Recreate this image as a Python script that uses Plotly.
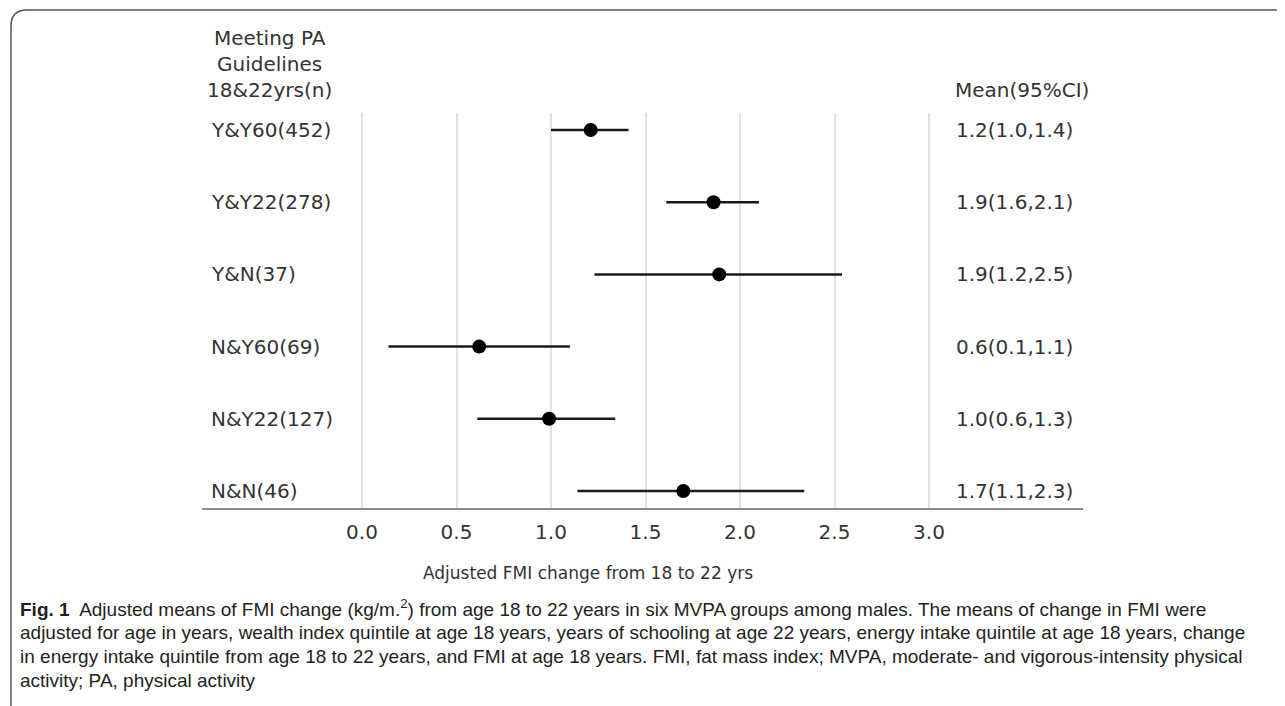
import plotly.graph_objects as go

# ---- data ----
groups = ["Y&Y60(452)", "Y&Y22(278)", "Y&N(37)", "N&Y60(69)", "N&Y22(127)", "N&N(46)"]
means = [1.21, 1.86, 1.89, 0.62, 0.99, 1.70]
ci_low = [1.00, 1.61, 1.23, 0.14, 0.61, 1.14]
ci_high = [1.41, 2.10, 2.54, 1.10, 1.34, 2.34]
ci_text = ["1.2(1.0,1.4)", "1.9(1.6,2.1)", "1.9(1.2,2.5)", "0.6(0.1,1.1)", "1.0(0.6,1.3)", "1.7(1.1,2.3)"]
tick_vals = [0.0, 0.5, 1.0, 1.5, 2.0, 2.5, 3.0]
tick_text = ["0.0", "0.5", "1.0", "1.5", "2.0", "2.5", "3.0"]
caption_lines = [
    "<b>Fig. 1</b>  Adjusted means of FMI change (kg/m.<sup>2</sup>) from age 18 to 22 years in six MVPA groups among males. The means of change in FMI were",
    "adjusted for age in years, wealth index quintile at age 18 years, years of schooling at age 22 years, energy intake quintile at age 18 years, change",
    "in energy intake quintile from age 18 to 22 years, and FMI at age 18 years. FMI, fat mass index; MVPA, moderate- and vigorous-intensity physical",
    "activity; PA, physical activity",
]

# ---- layout geometry (pixels of the 1285x706 window) ----
OFF = 8                      # default body margin of the page
W, H = 1285, 706
FW, FH = W - OFF, H - OFF    # figure size so the page does not overflow
L, T = 202 - OFF, 113 - OFF
PLOT_R, PLOT_B = 1083, 508
R = FW - (PLOT_R - OFF)
B = FH - (PLOT_B - OFF)
PW, PH = FW - L - R, FH - T - B


def px(x):
    return (x - OFF - L) / PW


def py(y):
    return (FH - B - (y - OFF)) / PH


rows = list(range(len(groups)))
err_plus = [h - m for h, m in zip(ci_high, means)]
err_minus = [m - l for m, l in zip(means, ci_low)]

CHART_FONT = "DejaVu Sans"
TXT = "#333333"
FS = 20

fig = go.Figure()
fig.add_trace(go.Scatter(
    x=means, y=rows, mode="markers",
    marker=dict(color="black", size=14),
    error_x=dict(type="data", symmetric=False, array=err_plus, arrayminus=err_minus,
                 color="#1a1a1a", thickness=2.5, width=0),
    showlegend=False, hoverinfo="skip",
))

annotations = []
for i, (g, t) in enumerate(zip(groups, ci_text)):
    annotations.append(dict(x=px(209), xref="paper", y=i, yref="y", text=g, showarrow=False,
                            xanchor="left", yanchor="middle", font=dict(family=CHART_FONT, size=FS, color=TXT)))
    annotations.append(dict(x=px(954), xref="paper", y=i, yref="y", text=t, showarrow=False,
                            xanchor="left", yanchor="middle", font=dict(family=CHART_FONT, size=FS, color=TXT)))

annotations.append(dict(x=px(269), xref="paper", y=py(64), yref="paper",
                        text="Meeting PA<br>Guidelines<br>18&22yrs(n)", showarrow=False,
                        xanchor="center", yanchor="middle", align="center",
                        font=dict(family=CHART_FONT, size=FS, color=TXT)))
annotations.append(dict(x=px(953), xref="paper", y=py(90), yref="paper",
                        text="Mean(95%CI)", showarrow=False, xanchor="left", yanchor="middle",
                        font=dict(family=CHART_FONT, size=FS, color=TXT)))
annotations.append(dict(x=px(588), xref="paper", y=py(573), yref="paper",
                        text="Adjusted FMI change from 18 to 22 yrs", showarrow=False,
                        xanchor="center", yanchor="middle",
                        font=dict(family=CHART_FONT, size=17, color=TXT)))

cap_y = [608, 632, 656, 680]
for line, yy in zip(caption_lines, cap_y):
    annotations.append(dict(x=px(18), xref="paper", y=py(yy), yref="paper", text=line,
                            showarrow=False, xanchor="left", yanchor="middle",
                            font=dict(family="Liberation Sans", size=19, color="#231f20")))

# frame (rounded top-left corner)
x0, y0, r = 11, 10, 16
path = (f"M {px(x0)},{py(H + 5)} L {px(x0)},{py(y0 + r)} "
        f"Q {px(x0)},{py(y0)} {px(x0 + r)},{py(y0)} L {px(W + 5)},{py(y0)}")
shapes = [dict(type="path", xref="paper", yref="paper", path=path,
               line=dict(color="#555555", width=1.5))]

fig.update_layout(
    width=FW, height=FH,
    margin=dict(l=L, r=R, t=T, b=B, pad=0),
    paper_bgcolor="white", plot_bgcolor="white",
    xaxis=dict(range=[-(362 - 202) / 189, (PLOT_R - 362) / 189],
               tickvals=tick_vals, ticktext=tick_text, ticks="",
               showgrid=True, gridcolor="#e3e3e3", gridwidth=1.5, zeroline=False,
               showline=True, linecolor="#8c8c8c", linewidth=2,
               tickfont=dict(family=CHART_FONT, size=FS, color=TXT),
               ticklabelstandoff=5, fixedrange=True),
    yaxis=dict(range=[len(groups) - 1 + 0.235, -0.235], showticklabels=False,
               showgrid=False, zeroline=False, showline=False, fixedrange=True),
    annotations=annotations,
    shapes=shapes,
)

fig.write_html("out.html")
